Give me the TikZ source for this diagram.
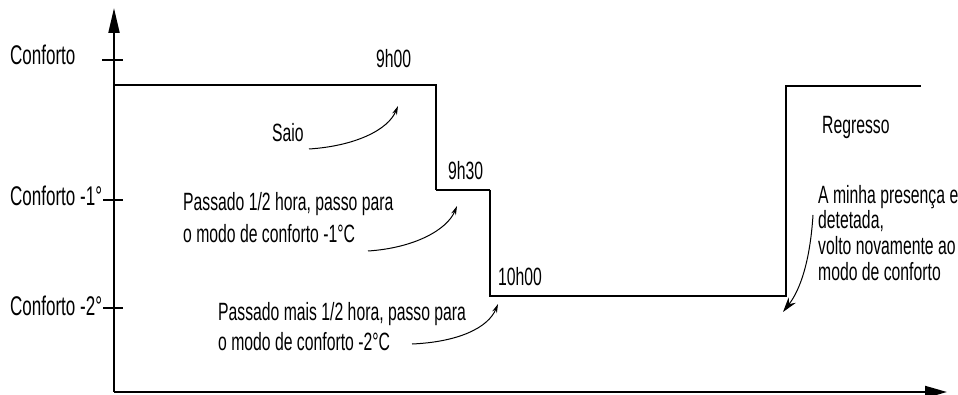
\documentclass[tikz,border=0pt]{standalone}
\usepackage{fontspec}
\setmainfont{Liberation Sans}[FakeStretch=0.63]
\usetikzlibrary{arrows.meta}
\begin{document}
\begin{tikzpicture}[x=1pt,y=-1pt,
  lbl/.style={anchor=base west,inner sep=0pt,font=\fontsize{25}{30}\selectfont},
  axlbl/.style={anchor=base west,inner sep=0pt,font=\fontsize{27}{32}\selectfont},
  axisline/.style={line width=2pt},
  stepline/.style={line width=1.2pt},
  tickline/.style={line width=1.2pt},
  note/.style={line width=1pt,-{Stealth[length=9pt,width=5pt]}},
  bignote/.style={line width=1pt,-{Stealth[length=15pt,width=9pt]}}]
\useasboundingbox (0,0) rectangle (958,395);
% axes
\coordinate (O) at (114,392);
\coordinate (Ytop) at (114,8);
\coordinate (Xend) at (947,392);
\draw[axisline,-{Triangle[length=25pt,width=11pt]}] (O) -- (Ytop);
\draw[axisline,-{Triangle[length=22pt,width=12pt]}] (O) -- (Xend);
% ticks
\coordinate (t1a) at (102,60); \coordinate (t1b) at (123,60);
\coordinate (t2a) at (103,200); \coordinate (t2b) at (123,200);
\coordinate (t3a) at (103,308); \coordinate (t3b) at (123,308);
\draw[tickline] (t1a) -- (t1b);
\draw[tickline] (t2a) -- (t2b);
\draw[tickline] (t3a) -- (t3b);
% step curve
\coordinate (s0) at (114,85);
\coordinate (s1) at (436,85);
\coordinate (s2) at (436,190);
\coordinate (s3) at (490,190);
\coordinate (s4) at (490,296);
\coordinate (s5) at (786,296);
\coordinate (s6) at (786,86);
\coordinate (s7) at (921,86);
\draw[stepline] (s0) -- (s1) -- (s2);
\draw[line width=2.2pt] (s2) -- (s3);
\draw[stepline] (s3) -- (s4) -- (s5) -- (s6) -- (s7);
% axis labels
\node[axlbl] (c0) at (10,65) {Conforto};
\node[axlbl] (c1) at (10,206) {Conforto -1°};
\node[axlbl] (c2) at (10,316) {Conforto -2°};
% times
\node[lbl] (h900) at (376,68) {9h00};
\node[lbl] (h930) at (448,180) {9h30};
\node[lbl] (h1000) at (498,285) {10h00};
% notes
\node[lbl] (saio) at (272,142) {Saio};
\node[lbl] (p1a) at (183,211) {Passado 1/2 hora, passo para};
\node[lbl] (p1b) at (183,243) {o modo de conforto -1°C};
\node[lbl] (p2a) at (218,320) {Passado mais 1/2 hora, passo para};
\node[lbl] (p2b) at (218,350) {o modo de conforto -2°C};
\node[lbl] (reg) at (822,134) {Regresso};
\node[lbl] (r1) at (818,204) {A minha presença e};
\node[lbl] (r2) at (818,229) {detetada,};
\node[lbl] (r3) at (818,255) {volto novamente ao};
\node[lbl] (r4) at (818,280) {modo de conforto};
% curved arrows
\coordinate (a1s) at (309,149); \coordinate (a1e) at (398,106);
\coordinate (a2s) at (368,251); \coordinate (a2e) at (457,206);
\coordinate (a3s) at (412,344); \coordinate (a3e) at (498,304);
\coordinate (a4s) at (813,215); \coordinate (a4e) at (783,312);
\draw[note] (a1s) .. controls (355,146) and (388,130) .. (a1e);
\draw[note] (a2s) .. controls (414,248) and (447,230) .. (a2e);
\draw[note] (a3s) .. controls (458,342) and (488,328) .. (a3e);
\draw[bignote] (a4s) .. controls (810,262) and (800,290) .. (a4e);
\end{tikzpicture}
\end{document}
